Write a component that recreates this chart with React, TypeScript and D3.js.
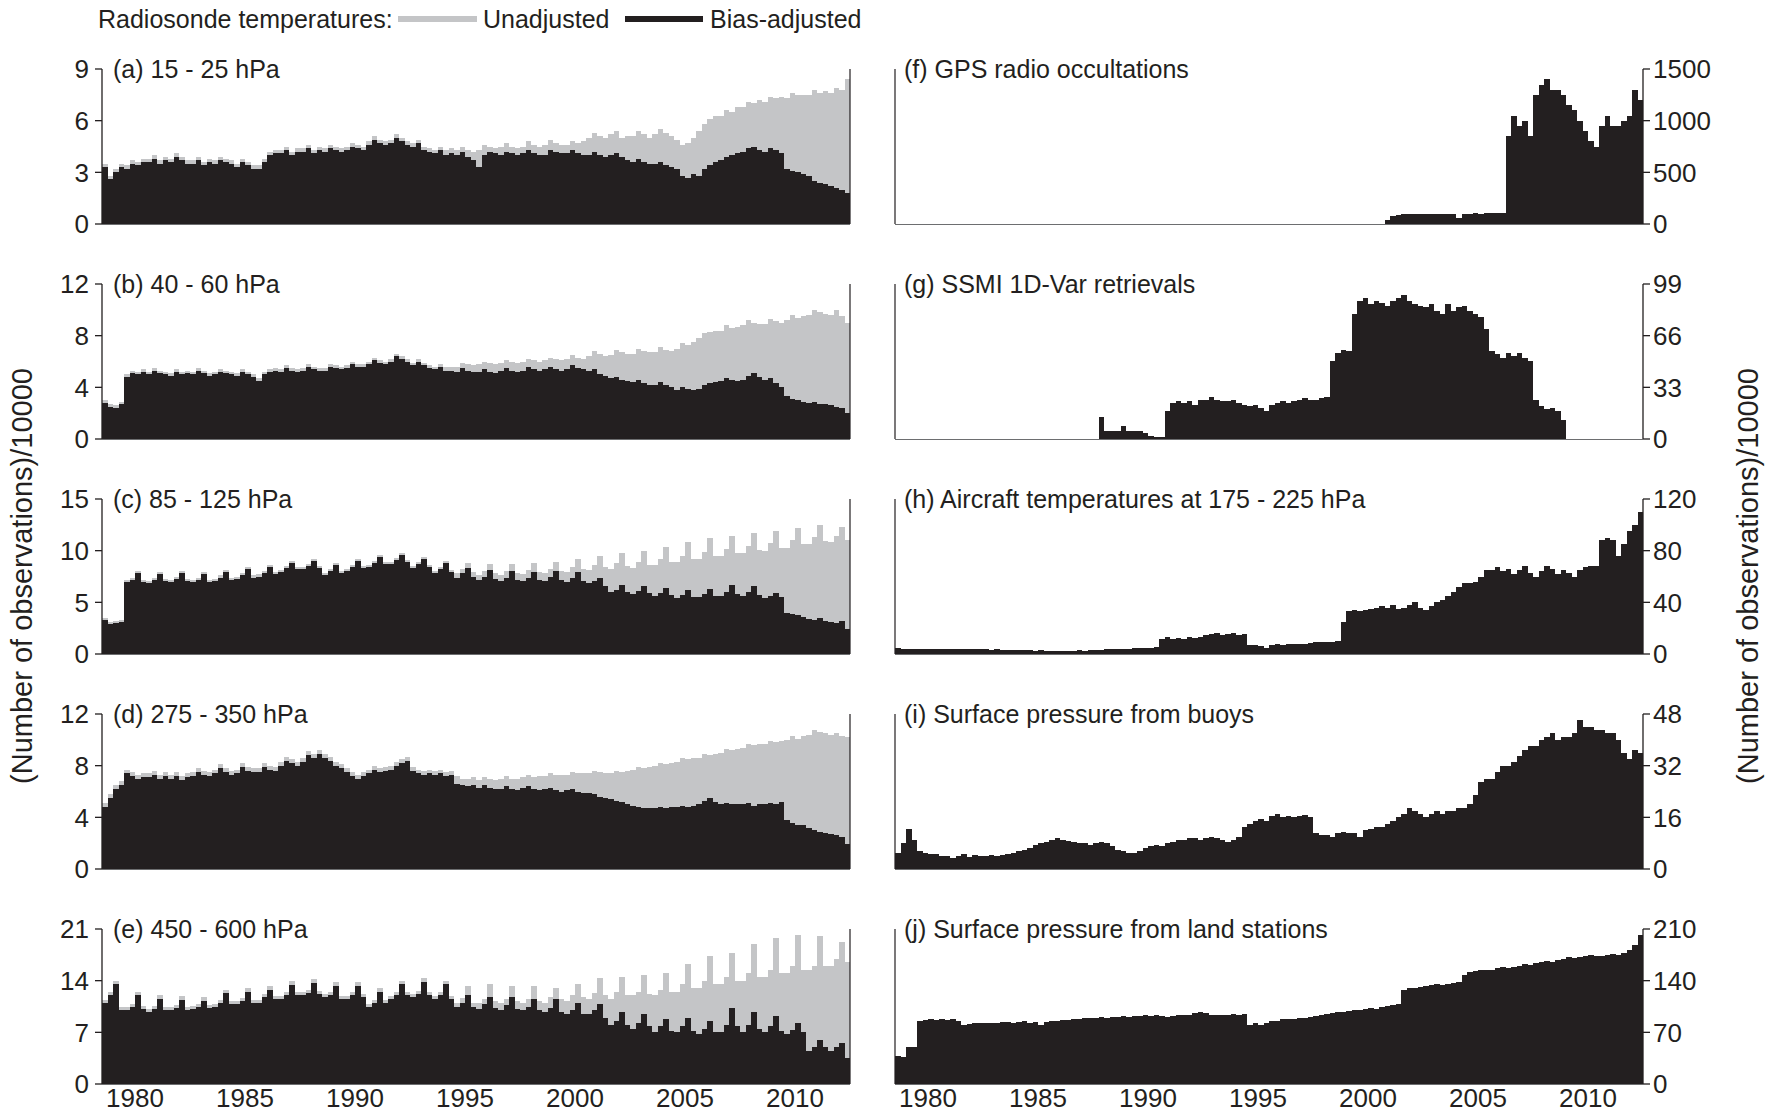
import React from 'react';
import * as d3 from 'd3';

// quarterly values, Jan 1979 .. Dec 2012 (4 per year), units: observations/10000
const aRaw = [
  3.5,2.8,3.2,3.5, 3.4,3.7,3.6,3.8, 3.8,4.0,3.7,3.9, 3.8,4.1,3.9,3.7,
  3.7,3.9,3.6,3.8, 3.7,3.9,3.8,3.7, 3.5,3.8,3.6,3.4, 3.4,3.8,4.2,4.3,
  4.3,4.5,4.2,4.4, 4.4,4.6,4.3,4.5, 4.4,4.6,4.5,4.4, 4.5,4.7,4.6,4.5,
  4.8,5.1,4.9,4.8, 4.9,5.2,5.0,4.8, 4.7,4.9,4.5,4.4, 4.3,4.5,4.3,4.4,
  4.3,4.5,4.3,4.2, 4.3,4.6,4.5,4.4, 4.5,4.7,4.5,4.4, 4.5,4.8,4.6,4.5,
  4.6,4.9,4.7,4.6, 4.6,4.8,4.7,4.8, 5.0,5.3,5.1,5.0, 5.2,5.4,5.0,5.1,
  5.1,5.4,5.2,5.0, 5.2,5.5,5.3,5.1, 4.9,4.6,4.7,5.0, 5.4,5.8,6.1,6.3,
  6.3,6.6,6.5,6.8, 6.8,7.1,7.0,7.2, 7.1,7.4,7.3,7.4, 7.3,7.6,7.5,7.5,
  7.5,7.8,7.6,7.7, 7.6,7.9,7.8,8.4
];
const aAdj = [
  3.3,2.6,3.0,3.3, 3.2,3.5,3.4,3.6, 3.6,3.8,3.5,3.7, 3.6,3.9,3.7,3.5,
  3.5,3.7,3.4,3.6, 3.5,3.7,3.6,3.5, 3.3,3.6,3.4,3.2, 3.2,3.6,4.0,4.1,
  4.1,4.3,4.0,4.2, 4.2,4.4,4.1,4.3, 4.2,4.4,4.3,4.2, 4.3,4.5,4.4,4.3,
  4.6,4.9,4.7,4.6, 4.7,5.0,4.8,4.6, 4.5,4.7,4.3,4.2, 4.1,4.3,4.0,4.1,
  4.0,4.2,3.9,3.7, 3.3,4.0,4.2,4.1, 4.0,4.2,4.1,4.0, 4.1,4.3,4.1,4.0,
  4.0,4.3,4.2,4.1, 4.1,4.3,4.1,4.0, 4.0,4.2,4.0,3.9, 4.0,4.1,3.9,3.7,
  3.6,3.8,3.6,3.5, 3.5,3.6,3.4,3.3, 3.2,2.8,2.7,2.9, 2.8,3.2,3.4,3.6,
  3.7,3.9,4.0,4.1, 4.2,4.4,4.5,4.3, 4.2,4.4,4.3,4.1, 3.2,3.1,3.0,2.9,
  2.8,2.5,2.4,2.3, 2.2,2.1,2.0,1.8
];
const bRaw = [
  3.0,2.7,2.6,2.9, 5.0,5.3,5.2,5.4, 5.2,5.5,5.3,5.2, 5.1,5.4,5.2,5.3,
  5.2,5.5,5.3,5.1, 5.2,5.4,5.3,5.2, 5.1,5.4,5.2,5.0, 4.7,5.2,5.4,5.5,
  5.4,5.7,5.5,5.4, 5.5,5.8,5.6,5.5, 5.5,5.8,5.7,5.6, 5.7,6.0,5.8,5.8,
  6.0,6.3,6.1,6.0, 6.2,6.6,6.4,6.2, 5.9,6.2,5.9,5.7, 5.6,5.8,5.6,5.6,
  5.6,5.9,5.8,5.7, 5.8,6.0,5.9,5.8, 5.9,6.1,6.0,5.9, 6.0,6.2,6.1,6.0,
  6.1,6.3,6.2,6.1, 6.2,6.5,6.3,6.2, 6.4,6.8,6.6,6.4, 6.5,6.9,6.7,6.6,
  6.6,7.0,6.8,6.7, 6.7,7.1,6.9,6.8, 7.0,7.4,7.3,7.5, 7.8,8.2,8.3,8.4,
  8.4,8.8,8.6,8.7, 8.8,9.2,9.0,8.9, 8.9,9.3,9.1,9.0, 9.2,9.6,9.4,9.5,
  9.6,10.0,9.8,9.7, 9.6,10.0,9.5,9.0
];
const bAdj = [
  2.8,2.5,2.4,2.7, 4.8,5.1,5.0,5.2, 5.0,5.3,5.1,5.0, 4.9,5.2,5.0,5.1,
  5.0,5.3,5.1,4.9, 5.0,5.2,5.1,5.0, 4.9,5.2,5.0,4.8, 4.5,5.0,5.2,5.3,
  5.2,5.5,5.3,5.2, 5.3,5.6,5.4,5.3, 5.3,5.6,5.5,5.4, 5.5,5.8,5.6,5.6,
  5.8,6.1,5.9,5.8, 6.0,6.4,6.2,6.0, 5.7,6.0,5.7,5.5, 5.4,5.6,5.3,5.3,
  5.2,5.5,5.3,5.2, 5.2,5.4,5.2,5.1, 5.3,5.5,5.3,5.2, 5.3,5.6,5.4,5.3,
  5.4,5.6,5.4,5.3, 5.4,5.7,5.5,5.4, 5.3,5.4,5.0,4.9, 4.7,4.8,4.6,4.5,
  4.4,4.6,4.3,4.2, 4.2,4.4,4.2,4.0, 3.8,4.0,3.9,3.8, 3.9,4.2,4.3,4.4,
  4.5,4.7,4.6,4.5, 4.6,4.9,5.1,4.8, 4.6,4.7,4.3,4.0, 3.3,3.1,3.0,2.9,
  2.8,2.9,2.7,2.7, 2.6,2.5,2.4,2.0
];
const cRaw = [
  3.5,3.1,3.2,3.3, 7.2,7.4,8.0,7.2, 7.1,7.4,7.9,7.3, 7.2,7.5,8.0,7.3,
  7.2,7.4,7.9,7.2, 7.3,7.6,8.1,7.4, 7.5,7.8,8.4,7.6, 7.7,8.0,8.6,7.9,
  8.1,8.5,9.0,8.4, 8.4,8.7,9.2,8.5, 7.8,8.2,8.8,8.0, 8.2,8.6,9.2,8.5,
  8.6,9.0,9.6,8.9, 8.9,9.3,9.8,9.1, 8.5,8.9,9.4,8.6, 8.0,8.4,9.0,8.1,
  7.8,8.2,8.8,7.9, 7.6,8.0,8.7,7.8, 7.6,8.0,8.7,7.8, 7.7,8.1,8.8,7.9,
  7.8,8.2,8.9,8.0, 7.9,8.4,9.2,8.2, 8.1,8.6,9.5,8.4, 8.2,8.8,9.8,8.5,
  8.3,8.9,10.0,8.6, 8.6,9.2,10.4,8.9, 8.9,9.5,10.8,9.2, 9.2,9.9,11.2,9.5,
  9.5,10.2,11.4,9.8, 9.8,10.5,11.7,10.1, 10.0,10.7,11.9,10.3, 10.3,11.0,12.2,10.6,
  10.6,11.3,12.5,10.9, 10.8,11.4,12.3,11.0
];
const cAdj = [
  3.3,2.9,3.0,3.1, 7.0,7.2,7.8,7.0, 6.9,7.2,7.7,7.1, 7.0,7.3,7.8,7.1,
  7.0,7.2,7.7,7.0, 7.1,7.4,7.9,7.2, 7.3,7.6,8.2,7.4, 7.5,7.8,8.4,7.7,
  7.9,8.3,8.8,8.2, 8.2,8.5,9.0,8.3, 7.6,8.0,8.6,7.8, 8.0,8.4,9.0,8.3,
  8.4,8.8,9.4,8.7, 8.7,9.1,9.6,8.9, 8.3,8.7,9.2,8.4, 7.8,8.2,8.8,7.9,
  7.4,7.8,8.3,7.5, 7.2,7.5,8.1,7.3, 7.1,7.4,8.0,7.2, 7.1,7.4,7.9,7.2,
  7.1,7.5,8.0,7.2, 7.0,7.4,7.9,7.1, 6.9,7.1,7.4,6.6, 6.0,6.2,6.7,6.0,
  5.8,6.1,6.6,5.9, 5.6,5.9,6.4,5.7, 5.4,5.7,6.2,5.5, 5.5,5.8,6.3,5.6,
  5.6,6.0,6.7,5.8, 5.6,6.0,6.6,5.7, 5.4,5.6,5.9,5.5, 4.0,3.9,3.8,3.6,
  3.4,3.3,3.5,3.2, 3.1,3.0,3.2,2.4
];
const dRaw = [
  5.1,5.8,6.5,6.8, 7.7,7.5,7.3,7.4, 7.4,7.6,7.3,7.5, 7.3,7.5,7.2,7.4,
  7.5,7.8,7.6,7.5, 7.7,8.1,7.8,7.6, 7.7,8.2,7.9,7.8, 7.8,8.2,8.0,7.9,
  8.3,8.7,8.5,8.3, 8.6,9.1,8.9,9.2, 8.9,8.7,8.3,8.1, 7.8,7.5,7.3,7.5,
  7.7,8.0,7.8,7.9, 8.0,8.3,8.5,8.7, 7.9,7.7,7.6,7.7, 7.6,7.7,7.5,7.6,
  7.2,7.0,7.0,7.1, 6.9,7.1,7.0,6.9, 7.0,7.2,7.0,7.0, 7.1,7.3,7.1,7.2,
  7.2,7.4,7.3,7.3, 7.3,7.5,7.4,7.4, 7.4,7.6,7.5,7.4, 7.4,7.6,7.5,7.6,
  7.7,7.9,7.8,7.9, 8.0,8.2,8.1,8.2, 8.3,8.6,8.5,8.6, 8.6,8.9,8.8,8.9,
  9.0,9.3,9.2,9.3, 9.4,9.7,9.6,9.7, 9.7,9.9,9.8,9.9, 10.0,10.3,10.1,10.3,
  10.4,10.8,10.6,10.5, 10.4,10.5,10.3,10.2
];
const dAdj = [
  4.8,5.5,6.2,6.5, 7.4,7.2,7.0,7.1, 7.1,7.3,7.0,7.2, 7.0,7.2,6.9,7.1,
  7.2,7.5,7.3,7.2, 7.4,7.8,7.5,7.3, 7.4,7.9,7.6,7.5, 7.5,7.9,7.7,7.6,
  8.0,8.4,8.2,8.0, 8.3,8.8,8.6,8.9, 8.6,8.4,8.0,7.8, 7.5,7.2,7.0,7.2,
  7.4,7.7,7.5,7.6, 7.7,8.0,8.2,8.4, 7.6,7.4,7.3,7.4, 7.3,7.4,7.2,7.3,
  6.6,6.5,6.4,6.5, 6.3,6.5,6.3,6.2, 6.2,6.4,6.2,6.1, 6.3,6.4,6.2,6.1,
  6.2,6.3,6.1,6.0, 6.1,6.2,6.0,5.9, 5.9,5.8,5.6,5.5, 5.4,5.3,5.2,5.0,
  4.9,4.8,4.7,4.7, 4.7,4.8,4.7,4.8, 4.8,4.9,4.8,4.9, 5.0,5.3,5.5,5.2,
  5.0,5.1,5.0,5.0, 5.0,5.1,4.9,5.0, 5.0,5.1,5.0,5.2, 3.8,3.6,3.4,3.4,
  3.2,3.0,2.9,2.8, 2.7,2.6,2.5,1.9
];
const eRaw = [
  11.4,12.4,14.0,10.4, 10.4,10.9,12.5,10.6, 10.2,10.6,12.0,10.4, 10.4,10.7,11.9,10.4,
  10.6,10.9,11.8,10.7, 10.9,11.4,12.8,11.2, 11.2,11.7,13.0,11.4, 11.4,12.2,13.3,11.9,
  11.9,12.4,13.9,12.4, 12.4,12.7,14.2,12.6, 12.2,12.4,13.8,11.9, 11.9,12.4,13.8,12.2,
  10.9,11.4,13.0,11.4, 11.9,12.4,14.0,12.4, 12.2,12.6,14.3,12.4, 11.9,12.4,14.0,11.9,
  11.0,11.6,13.3,11.0, 11.0,11.5,13.5,11.2, 11.0,11.5,13.3,11.2, 11.0,11.5,13.3,11.3,
  11.0,11.8,13.0,11.5, 11.3,12.0,13.5,11.8, 11.5,12.3,14.3,12.0, 11.5,12.5,14.5,12.0,
  12.0,12.5,14.8,12.2, 12.0,12.8,15.0,12.5, 12.5,13.5,16.2,13.0, 13.0,14.0,17.4,13.5,
  13.5,14.5,17.8,14.0, 14.0,15.0,19.0,14.5, 14.5,15.5,19.8,15.0, 15.0,16.0,20.2,15.5,
  15.5,16.0,20.0,16.0, 16.0,17.0,19.3,16.5
];
const eAdj = [
  11.0,12.0,13.5,10.0, 10.0,10.5,12.0,10.2, 9.8,10.2,11.5,10.0, 10.0,10.3,11.4,10.0,
  10.2,10.5,11.3,10.3, 10.5,11.0,12.3,10.8, 10.8,11.3,12.5,11.0, 11.0,11.8,12.8,11.5,
  11.5,12.0,13.4,12.0, 12.0,12.3,13.7,12.2, 11.8,12.0,13.3,11.5, 11.5,12.0,13.3,11.8,
  10.5,11.0,12.5,11.0, 11.5,12.0,13.5,12.0, 11.8,12.2,13.8,12.0, 11.5,12.0,13.5,11.5,
  10.5,11.0,12.1,10.5, 10.2,10.8,11.8,10.3, 10.0,10.7,11.8,10.2, 10.0,10.5,11.5,10.0,
  9.8,10.3,11.5,9.8, 9.5,10.0,11.0,9.5, 9.5,10.0,10.9,9.0, 8.0,8.5,9.8,8.0,
  7.5,8.2,9.5,7.8, 7.0,7.8,8.8,7.2, 7.0,7.8,9.0,7.2, 6.8,7.5,8.5,7.0,
  7.0,8.0,10.3,7.8, 7.0,8.0,9.8,7.5, 7.0,7.8,9.2,7.2, 6.8,7.3,8.2,7.0,
  4.5,5.0,6.0,5.0, 4.5,5.0,5.6,3.5
];
const gpsObs = [
  0,0,0,0, 0,0,0,0, 0,0,0,0, 0,0,0,0,
  0,0,0,0, 0,0,0,0, 0,0,0,0, 0,0,0,0,
  0,0,0,0, 0,0,0,0, 0,0,0,0, 0,0,0,0,
  0,0,0,0, 0,0,0,0, 0,0,0,0, 0,0,0,0,
  0,0,0,0, 0,0,0,0, 0,0,0,0, 0,0,0,0,
  0,0,0,0, 0,0,0,0,
  0,40,80,90, 95,100,95,100, 100,95,100,95, 100,95,60,95,
  100,105,100,105, 110,105,110,850, 1050,950,1000,850, 1250,1350,1400,1300,
  1300,1250,1150,1100, 1000,900,800,750, 950,1050,950,950, 1000,1050,1300,1200
];
const ssmiObs = [
  0,0,0,0, 0,0,0,0, 0,0,0,0, 0,0,0,0,
  0,0,0,0, 0,0,0,0, 0,0,0,0, 0,0,0,0,
  0,0,0,0,
  0,14,5,5, 5,8,5,5, 5,4,2,1, 1,18,23,24,
  23,24,22,25, 25,27,25,24, 24,25,23,22, 21,22,20,18,
  22,23,24,23, 24,25,26,25, 25,26,27,50, 55,57,56,80,
  88,90,86,88, 87,85,88,90, 92,88,86,85, 84,86,82,80,
  86,82,84,85, 82,80,78,70, 56,54,52,55, 53,55,52,50,
  25,21,19,20, 18,12,0,0, 0,0,0,0, 0,0,0,0,
  0,0,0,0
];
const aircraftObs = [
  5,4,4,4, 4,4,4,3.5, 4,3.5,4,3.5, 3.5,3.5,3.5,3.5,
  3.5,3,3.5,3, 3,3,3,3, 3,2.5,3,2.5, 2.5,2.5,2.5,2.5,
  2.5,3,2.5,3, 3,3,3.5,3.5, 3.5,4,4,4.5, 4.5,5,5,5.5,
  12,13,12,12.5, 12,13,12.5,13, 15,15.5,16,15, 15.5,16,15,15.5,
  7,7,6.5,5, 7,7.5,7,7.5, 8,7.5,8,8.5, 9,9.5,9,9.5,
  10,25,33,34, 33,34,35,36, 37,36,38,35, 36,38,40,36,
  34,37,40,42, 45,48,52,55, 55,56,60,65, 65,67,64,66,
  62,65,68,63, 60,64,68,66, 62,65,63,60, 65,67,68,68,
  88,90,88,76, 85,95,100,110
];
const buoyObs = [
  5,8,12.5,9, 5.5,5,4.5,4.5, 4,4,3.5,4, 4.5,3.8,4.2,4,
  4,4.2,4,4.2, 4.5,5,5.5,6, 6.5,7.5,8,8.5, 9,9.5,9,8.8,
  8.5,8,8,7.5, 8,8.5,8,7, 6,5.5,5,5, 5.5,6.5,7,7.5,
  7,8,8.5,9, 9,9.5,9.5,9, 9.5,10,9.5,9, 8.5,9,10,13,
  14,15,15.5,15, 16.5,17,16,16.5, 16,16.5,16.8,16, 11,10.5,10.5,10,
  11,11.5,11,11, 10,12,12.5,13, 13,14,15,16, 17,19,18,17,
  16,17,18,17, 18,18,19,19, 20,23,27,28, 28,30,32,32,
  33,35,37,38, 38,40,41,42, 40,41,41,42, 46,44,44,43,
  43,42,42,40, 36,34,37,36
];
const landObs = [
  38,36,50,50, 85,87,88,87, 88,87,88,86, 80,81,82,82,
  82,83,83,84, 84,83,84,85, 83,84,80,84, 85,86,87,87,
  88,88,89,90, 90,91,90,91, 91,92,91,92, 92,93,92,93,
  92,91,92,93, 93,94,96,98, 96,94,93,94, 94,95,94,95,
  80,82,80,83, 85,86,88,88, 88,89,90,91, 92,94,95,96,
  97,98,99,100, 100,101,103,102, 104,106,107,108, 128,130,130,132,
  133,134,135,134, 135,137,138,148, 152,153,155,154, 155,157,158,157,
  158,160,162,161, 164,165,166,165, 168,170,172,171, 172,174,175,174,
  174,175,176,175, 178,182,188,202
];

const yearTicks = [1980, 1985, 1990, 1995, 2000, 2005, 2010];
const ticksA = [0, 3, 6, 9];
const ticksB = [0, 4, 8, 12];
const ticksC = [0, 5, 10, 15];
const ticksD = [0, 4, 8, 12];
const ticksE = [0, 7, 14, 21];
const ticksF = [0, 500, 1000, 1500];
const ticksG = [0, 33, 66, 99];
const ticksH = [0, 40, 80, 120];
const ticksI = [0, 16, 32, 48];
const ticksJ = [0, 70, 140, 210];

const panels = [
  { label: '(a) 15 - 25 hPa', ticks: ticksA, raw: aRaw, adj: aAdj, col: 0, row: 0 },
  { label: '(b) 40 - 60 hPa', ticks: ticksB, raw: bRaw, adj: bAdj, col: 0, row: 1 },
  { label: '(c) 85 - 125 hPa', ticks: ticksC, raw: cRaw, adj: cAdj, col: 0, row: 2 },
  { label: '(d) 275 - 350 hPa', ticks: ticksD, raw: dRaw, adj: dAdj, col: 0, row: 3 },
  { label: '(e) 450 - 600 hPa', ticks: ticksE, raw: eRaw, adj: eAdj, col: 0, row: 4 },
  { label: '(f) GPS radio occultations', ticks: ticksF, raw: null, adj: gpsObs, col: 1, row: 0 },
  { label: '(g) SSMI 1D-Var retrievals', ticks: ticksG, raw: null, adj: ssmiObs, col: 1, row: 1 },
  { label: '(h) Aircraft temperatures at 175 - 225 hPa', ticks: ticksH, raw: null, adj: aircraftObs, col: 1, row: 2 },
  { label: '(i) Surface pressure from buoys', ticks: ticksI, raw: null, adj: buoyObs, col: 1, row: 3 },
  { label: '(j) Surface pressure from land stations', ticks: ticksJ, raw: null, adj: landObs, col: 1, row: 4 }
];

const FONT = '"Liberation Sans", Arial, Helvetica, sans-serif';
const INK = '#231f20';
const GREY = '#c4c5c7';
const W = 1772, H = 1116;
const PW = 748, PH = 155;

const Panel = ({ p }: any) => {
  const x0 = p.col === 0 ? 102 : 895;
  const x1 = x0 + PW;
  const top = 69 + p.row * 215;
  const bottom = top + PH;
  const x = d3.scaleLinear().domain([1979, 2013]).range([x0, x1]);
  const y = d3.scaleLinear().domain([0, p.ticks[p.ticks.length - 1]]).range([bottom, top]);
  const t = (i: number) => 1979 + i * 0.25;

  const bars = (vals: number[], fill: string, key: string) =>
    vals.map((v, i) => (
      <rect key={key + i} x={x(t(i))} width={x(t(i + 1)) - x(t(i)) + 0.3}
        y={y(v)} height={bottom - y(v)} fill={fill} />
    ));

  const axisX = p.col === 0 ? x0 : x1;
  const plainX = p.col === 0 ? x1 : x0;
  const dir = p.col === 0 ? -1 : 1;

  return (
    <g>
      <g shapeRendering="crispEdges">
        {p.raw && bars(p.raw, GREY, 'r')}
        {bars(p.adj, INK, 'a')}
      </g>
      <line x1={x0} x2={x1} y1={bottom + 0.5} y2={bottom + 0.5} stroke="#6d6e70" strokeWidth={1.2} />
      <line x1={plainX} x2={plainX} y1={top} y2={bottom} stroke={INK} strokeWidth={1.2} />
      <line x1={axisX} x2={axisX} y1={top} y2={bottom} stroke={INK} strokeWidth={1.3} />
      {p.ticks.map((v: number) => (
        <g key={v}>
          <line x1={axisX} x2={axisX + dir * 7} y1={y(v)} y2={y(v)} stroke={INK} strokeWidth={1.3} />
          <text x={axisX + dir * (p.col === 0 ? 13 : 10)} y={y(v)} dy="0.36em" fontSize={26}
            textAnchor={p.col === 0 ? 'end' : 'start'} fill={INK}>{v}</text>
        </g>
      ))}
      <text x={x0 + (p.col === 0 ? 11 : 9)} y={top} dy="0.36em" fontSize={25} fill={INK}>{p.label}</text>
      {p.row === 4 && yearTicks.map(yr => (
        <text key={yr} x={x(yr + 0.5)} y={1098} dy="0.36em" fontSize={26}
          textAnchor="middle" fill={INK}>{yr}</text>
      ))}
    </g>
  );
};

const App = () => {
  return (
    <svg width={W} height={H} style={{ position: 'absolute', left: 0, top: 0, background: '#fff' }}
      fontFamily={FONT}>
      <rect width={W} height={H} fill="#fff" />
      {/* legend */}
      <text x={98} y={19} dy="0.36em" fontSize={25} fill={INK}>Radiosonde temperatures:</text>
      <line x1={398} x2={477} y1={19} y2={19} stroke={GREY} strokeWidth={6} />
      <text x={483} y={19} dy="0.36em" fontSize={25} fill={INK}>Unadjusted</text>
      <line x1={625} x2={703} y1={19} y2={19} stroke={INK} strokeWidth={6} />
      <text x={710} y={19} dy="0.36em" fontSize={25} fill={INK}>Bias-adjusted</text>

      {panels.map((p, i) => <Panel key={i} p={p} />)}

      <text transform="translate(22,576) rotate(-90)" dy="0.36em" textAnchor="middle"
        fontSize={29} fill={INK}>(Number of observations)/10000</text>
      <text transform="translate(1748,576) rotate(-90)" dy="0.36em" textAnchor="middle"
        fontSize={29} fill={INK}>(Number of observations)/10000</text>
    </svg>
  );
};

export default App;
